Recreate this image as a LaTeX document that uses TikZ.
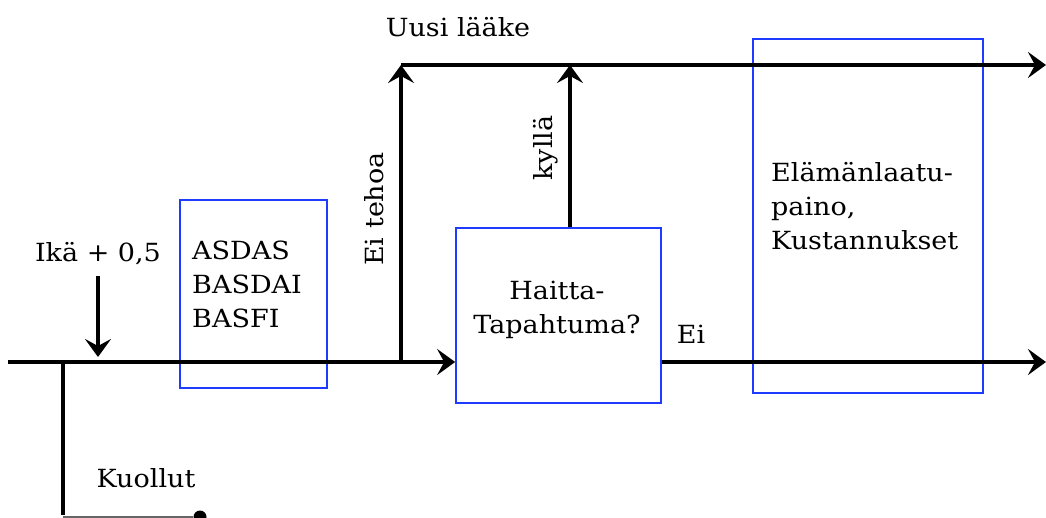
\documentclass[tikz,border=0pt]{standalone}
\usepackage{fontspec}
\setmainfont[FakeStretch=1.08]{DejaVu Serif}
\usetikzlibrary{arrows.meta}
\tikzset{
  bigtip/.tip={Stealth[length=18pt,width=26pt,inset=7pt]},
  flow/.style={line width=3.5pt,black},
  arr/.style={flow,-bigtip},
  bluebox/.style={draw={rgb,255:red,30;green,60;blue,255},line width=1.7pt,inner sep=0pt},
  txt/.style={font=\fontsize{25}{34}\selectfont,inner sep=0pt},
}
\begin{document}
\begin{tikzpicture}[x=1pt,y=-1pt]
\useasboundingbox (0,0) rectangle (1046,518);
% boxes
\node[bluebox,minimum width=147pt,minimum height=188pt] (asdas) at (253.5,294) {};
\node[bluebox,minimum width=205pt,minimum height=175pt] (haitta) at (558.5,315.5) {};
\node[bluebox,minimum width=230pt,minimum height=354pt] (qol) at (868,216) {};
% coordinates
\coordinate (start) at (8,362);
\coordinate (split) at (63,362);
\coordinate (deadcorner) at (63,517);
\coordinate (branch) at (401,362);
\coordinate (newtop) at (401,65);
\coordinate (topend) at (1046,65);
\coordinate (mainend) at (1046,362);
\coordinate (kyllatop) at (570,65);
\coordinate (ikaend) at (98,357);
% lines
\draw[flow] (start) -- (branch);
\draw[arr] (branch) -- (branch -| haitta.west);
\draw[arr] (branch) -- (newtop);
\draw[arr] (newtop) -- (topend);
\draw[arr] (kyllatop |- haitta.north) -- (kyllatop);
\draw[arr] (haitta.east |- mainend) -- (mainend);
\draw[flow] (split) -- ([yshift=2pt]deadcorner);
\node[circle,fill=black,inner sep=0pt,minimum size=13pt] (dead) at (200,517) {};
\draw[line width=1.5pt,black!60] (deadcorner) -- (dead);
% texts
\node[txt,anchor=base] (ika) at (98,262) {Ikä + 0,5};
\draw[arr] ([yshift=-10pt]ika.south) -- (ikaend);
\node[txt,align=left,anchor=north west] (asdastxt) at (192,241) {ASDAS\\BASDAI\\BASFI};
\node[txt,align=center,anchor=north] (haittatxt) at (557,281) {Haitta-\\Tapahtuma?};
\node[txt,align=left,anchor=north west] (qoltxt) at (771,162) {Elämänlaatu-\\paino,\\Kustannukset};
\node[txt,anchor=base] (kuollut) at (146,487) {Kuollut};
\node[txt,anchor=base] (uusi) at (458,37) {Uusi lääke};
\node[txt,rotate=90,anchor=base] (eitehoa) at (383,209) {Ei tehoa};
\node[txt,rotate=90,anchor=base] (kylla) at (552,148) {kyllä};
\node[txt,anchor=base] (ei) at (691,343) {Ei};
\end{tikzpicture}
\end{document}
